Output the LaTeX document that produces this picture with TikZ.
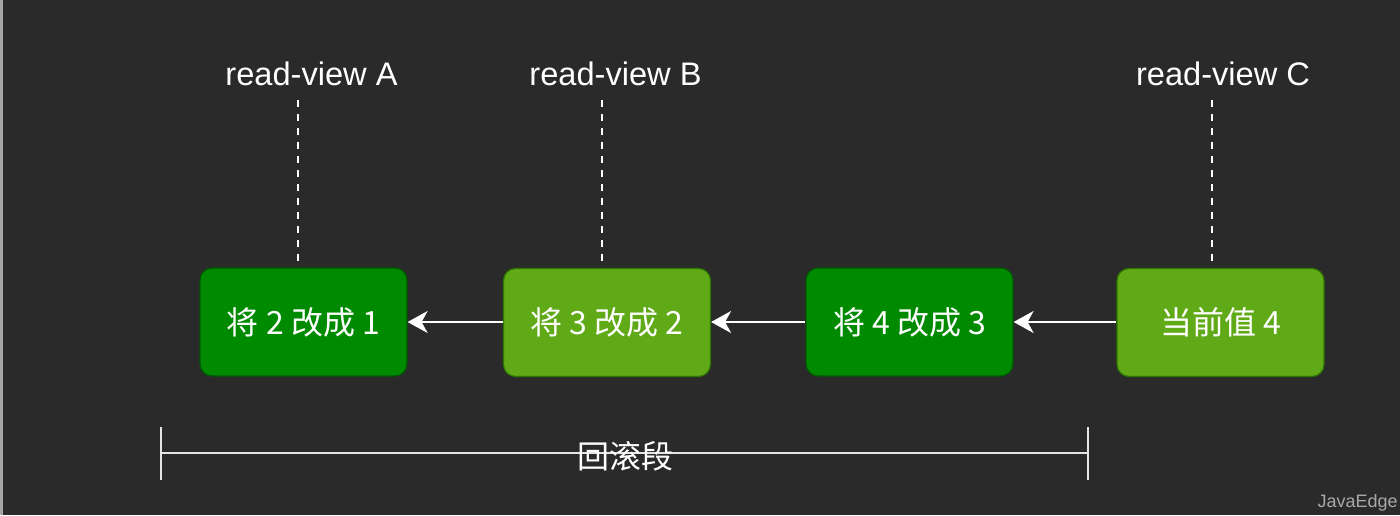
\documentclass[tikz,border=0pt]{standalone}
\usepackage{fontspec}
\setmainfont{Liberation Sans}
\newfontfamily\cjk{Noto Sans CJK SC}
\usetikzlibrary{arrows.meta}
\definecolor{bg}{HTML}{2A2A2A}
\definecolor{dkgreen}{HTML}{008A00}
\definecolor{dkgreenline}{HTML}{005700}
\definecolor{ltgreen}{HTML}{60A917}
\definecolor{ltgreenline}{HTML}{2D7600}
\definecolor{wm}{HTML}{A8A8A8}
\tikzset{
  box/.style={rounded corners=6pt, minimum width=103.5pt, minimum height=54pt,
    inner sep=0pt, line width=0.6pt, text=white, font=\cjk\fontsize{16}{18}\selectfont},
  darkbox/.style={box, fill=dkgreen, draw=dkgreenline},
  lightbox/.style={box, fill=ltgreen, draw=ltgreenline},
  viewlabel/.style={text=white, font=\fontsize{16.3}{18}\selectfont, inner sep=0pt},
  arr/.style={white, line width=1pt, -{Stealth[length=10pt,width=11pt,inset=3pt]}},
  dashline/.style={white, line width=1pt, dash pattern=on 3.5pt off 3.5pt},
  bar/.style={white!90!black, line width=1.2pt}
}
\begin{document}
\begin{tikzpicture}[x=0.5pt,y=-0.5pt]
\fill[bg] (0,0) rectangle (1400,515);
\useasboundingbox (0,0) rectangle (1400,515);
\fill[gray!70] (0,0) rectangle (2.5,515);

% boxes
\node[darkbox]  (b1) at (303.5,322) {将 2 改成 1};
\node[lightbox] (b2) at (607,322.5) {将 3 改成 2};
\node[darkbox]  (b3) at (909.5,322) {将 4 改成 3};
\node[lightbox] (b4) at (1220.5,322.5) {当前值 4};

% arrows
\draw[arr] (b2.west |- 0,322) -- (b1.east |- 0,322);
\draw[arr] (b3.west |- 0,322) -- (b2.east |- 0,322);
\draw[arr] (b4.west |- 0,322) -- (b3.east |- 0,322);

% read-view labels
\node[viewlabel] (va) at (311.5,74) {read-view A};
\node[viewlabel] (vb) at (615.5,74) {read-view B};
\node[viewlabel] (vc) at (1223,74) {read-view C};

\coordinate (ta) at (298,100);
\coordinate (tb) at (602,100);
\coordinate (tc) at (1212,100);
\draw[dashline] (ta) -- (ta |- b1.north);
\draw[dashline] (tb) -- (tb |- b2.north);
\draw[dashline] (tc) -- (tc |- b4.north);

% rollback segment bracket
\coordinate (L) at (161,453);
\coordinate (R) at (1088,453);
\coordinate (Lt) at (161,427);
\coordinate (Lb) at (161,480);
\coordinate (Rt) at (1088,427);
\coordinate (Rb) at (1088,480);
\draw[bar] (Lt) -- (Lb);
\draw[bar] (Rt) -- (Rb);
\draw[bar] (L) -- (R);
\node[text=white, inner sep=0pt, font=\cjk\fontsize{16}{18}\selectfont] (seg) at (625,456) {回滚段};

% watermark
\node[text=wm, inner sep=0pt, font=\fontsize{9}{11}\selectfont, anchor=east] (wmk) at (1398,503) {JavaEdge};
\end{tikzpicture}
\end{document}
